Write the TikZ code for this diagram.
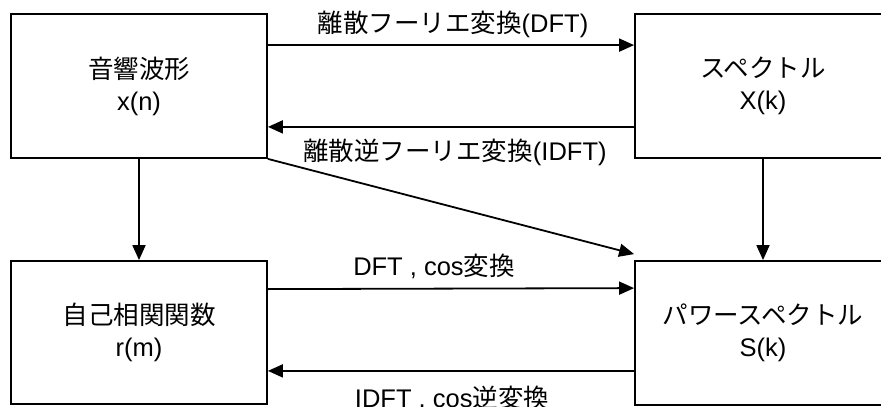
\documentclass[tikz,border=0pt]{standalone}
\usepackage{fontspec}
\setmainfont{Liberation Sans}
\newfontfamily\jp{Noto Sans CJK JP}
\usetikzlibrary{arrows.meta}
\tikzset{
  box/.style={draw, line width=1.8pt, minimum width=256pt, minimum height=144pt, inner sep=0pt, align=center, font=\fontsize{25.5}{32}\selectfont},
  arr/.style={line width=1.8pt, -{Triangle[length=15pt,width=13pt]}},
  lbl/.style={inner sep=0pt, font=\fontsize{25.5}{32}\selectfont}
}
\begin{document}
\begin{tikzpicture}[x=1pt,y=-1pt]
\clip (0,0) rectangle (881,407);
\fill[white] (0,0) rectangle (881,407);
\node[box] (wave) at (139,86) {{\jp 音響波形}\\x(n)};
\node[box] (spec) at (763,86) {{\jp スペクトル}\\X(k)};
\node[box, minimum height=143pt] (acf) at (139,332.5) {{\jp 自己相関関数}\\r(m)};
\node[box] (pow) at (763,333) {{\jp パワースペクトル}\\S(k)};
\coordinate (d1) at ([yshift=-32pt]wave.north east);
\coordinate (d2) at ([yshift=-32pt]spec.north west);
\coordinate (i1) at ([yshift=32pt]wave.south east);
\coordinate (i2) at ([yshift=32pt]spec.south west);
\coordinate (c1) at ([yshift=-29pt]acf.north east);
\coordinate (c2) at ([yshift=-28pt]pow.north west);
\coordinate (e1) at ([yshift=34pt]acf.south east);
\coordinate (e2) at ([yshift=35pt]pow.south west);
\coordinate (diagend) at ([yshift=6pt]pow.north west);
\draw[arr] (d1) -- (d2);
\draw[arr] (i2) -- (i1);
\draw[arr] (wave.south) -- (acf.north);
\draw[arr] (spec.south) -- (pow.north);
\draw[arr] (wave.south east) -- (diagend);
\draw[arr] (c1) -- (c2);
\draw[arr] (e2) -- (e1);
\node[lbl] (l1) at (453,24) {{\jp 離散フーリエ変換}(DFT)};
\node[lbl] (l2) at (455,152) {{\jp 離散逆フーリエ変換}(IDFT)};
\node[lbl] (l3) at (434,266) {DFT , cos{\jp 変換}};
\node[lbl] (l4) at (452,398) {IDFT , cos{\jp 逆変換}};
\end{tikzpicture}
\end{document}
